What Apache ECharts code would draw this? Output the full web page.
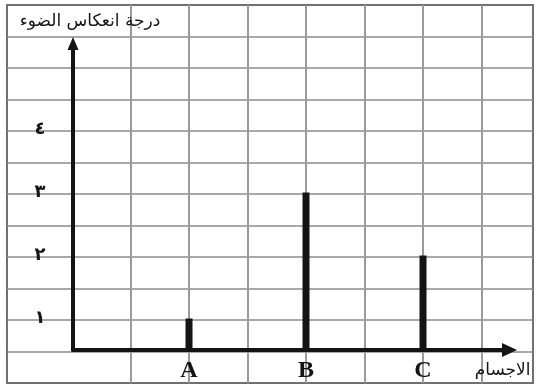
<!DOCTYPE html>
<html>
<head>
<meta charset="utf-8">
<script src="https://cdn.jsdelivr.net/npm/echarts@6/dist/echarts.min.js"></script>
<style>
  html, body { margin: 0; padding: 0; background: #fff; }
  #chart { width: 537px; height: 390px; }
</style>
</head>
<body>
<div id="chart"></div>
<script>
// الأجسام ودرجة انعكاس الضوء
var objects = ['A', 'B', 'C'];
var reflection = [1, 3, 2];
var yTickLabels = ['١', '٢', '٣', '٤'];
var yTitle = 'درجة انعكاس الضوء';
var xTitle = 'الاجسام';

var chart = echarts.init(document.getElementById('chart'));

var ink = '#141414';
var paper = '#9a9a9a';
var yMin = 0.5, yMax = 5.365;

var hidden = { show: false };

chart.setOption({
  animation: false,
  grid: [
    // إطار الورقة والخطوط الأفقية
    { left: 7, top: 5, right: 4, bottom: 7, show: true, borderColor: '#707070', borderWidth: 2 },
    // الخطوط الرأسية
    { left: 72, top: 5, right: 4, bottom: 7 },
    // المحاور
    { left: 73, top: 43.5, right: 27.5, bottom: 40 },
    // الأعمدة
    { left: 130.5, top: 43.5, right: 55.5, bottom: 40 }
  ],
  xAxis: [
    { gridIndex: 0, type: 'value', show: false },
    {
      gridIndex: 1, type: 'value', min: 0, max: 7.88, interval: 1,
      axisLine: hidden, axisTick: hidden, axisLabel: hidden,
      splitLine: { show: true, showMinLine: false, showMaxLine: false,
        lineStyle: { color: paper, width: 2 } }
    },
    {
      gridIndex: 2, type: 'value', min: 0, max: 1,
      axisTick: hidden, axisLabel: hidden, splitLine: hidden,
      axisLine: { show: true, symbol: ['none', 'triangle'], symbolSize: [14, 15],
        lineStyle: { color: ink, width: 4 } },
      name: xTitle,
      nameLocation: 'end',
      nameGap: 21,
      nameTextStyle: { fontFamily: 'DejaVu Sans', fontSize: 17, color: ink,
        align: 'right', verticalAlign: 'top', padding: [12, 0, 0, 0] }
    },
    {
      gridIndex: 3, type: 'category', data: objects,
      axisLine: hidden, axisTick: hidden, splitLine: hidden,
      axisLabel: { color: ink, fontFamily: 'Liberation Serif', fontWeight: 'bold',
        fontSize: 24, margin: 9 }
    }
  ],
  yAxis: [
    {
      gridIndex: 0, type: 'value', min: 0, max: 12, interval: 1,
      axisLine: hidden, axisTick: hidden, axisLabel: hidden,
      splitLine: { show: true, showMinLine: false, showMaxLine: false,
        lineStyle: { color: '#8c8c8c', width: 1.5 } }
    },
    { gridIndex: 1, type: 'value', show: false },
    {
      gridIndex: 2, type: 'value', min: yMin, max: yMax,
      minInterval: 1, maxInterval: 1,
      axisTick: hidden, splitLine: hidden,
      axisLine: { show: true, symbol: ['none', 'triangle'], symbolSize: [11, 13],
        lineStyle: { color: ink, width: 4 } },
      axisLabel: {
        showMinLabel: false, showMaxLabel: false,
        margin: 33, align: 'center', padding: [0, 0, 14, 0],
        fontFamily: 'DejaVu Sans', fontWeight: 'bold', fontSize: 18, color: ink,
        formatter: function (v) {
          return (v >= 1 && v <= yTickLabels.length && v % 1 === 0) ? yTickLabels[v - 1] : '';
        }
      },
      name: yTitle,
      nameLocation: 'end',
      nameGap: 22,
      nameTextStyle: { fontFamily: 'DejaVu Sans', fontSize: 17, color: ink,
        align: 'center', verticalAlign: 'middle', padding: [0, 0, 0, 34] }
    },
    { gridIndex: 3, type: 'value', min: yMin, max: yMax, show: false }
  ],
  series: [
    {
      type: 'bar',
      xAxisIndex: 3,
      yAxisIndex: 3,
      data: reflection,
      barWidth: 7,
      clip: true,
      itemStyle: { color: ink }
    }
  ]
});
</script>
</body>
</html>
